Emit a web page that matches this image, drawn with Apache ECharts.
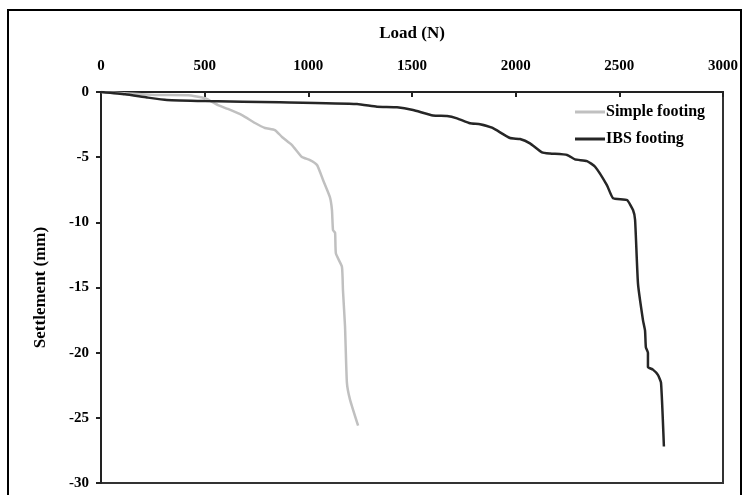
<!DOCTYPE html>
<html>
<head>
<meta charset="utf-8">
<script src="https://cdn.jsdelivr.net/npm/echarts@6/dist/echarts.min.js"></script>
<style>html,body{margin:0;padding:0;background:#fff}#c{width:746px;height:495px}</style>
</head>
<body>
<div id="c"></div>
<script>
const simpleLoad = [0,260,420,502,564,612,680,743,791,839,873,921,969,1008,1042,1071,1104,1114,1119,1129,1133,1162,1167,1177,1186,1201,1240];
const simpleSettle = [0,-0.23,-0.25,-0.48,-1.0,-1.3,-1.77,-2.38,-2.76,-2.92,-3.45,-4.07,-4.99,-5.22,-5.6,-6.75,-8.06,-9.06,-10.6,-10.8,-12.4,-13.4,-15.2,-18.0,-22.3,-23.6,-25.6];
const ibsLoad = [0,116,222,318,502,863,1235,1331,1428,1505,1601,1669,1717,1780,1828,1886,1973,2021,2069,2127,2166,2248,2286,2344,2383,2440,2470,2537,2566,2576,2590,2614,2624,2628,2638,2638,2662,2686,2701,2715];
const ibsSettle = [0,-0.18,-0.42,-0.61,-0.69,-0.79,-0.92,-1.13,-1.17,-1.38,-1.8,-1.84,-2.02,-2.4,-2.47,-2.74,-3.53,-3.61,-3.94,-4.63,-4.72,-4.83,-5.17,-5.3,-5.73,-7.14,-8.16,-8.29,-9.06,-9.82,-14.7,-17.5,-18.3,-19.6,-20.0,-21.1,-21.3,-21.7,-22.3,-27.2];
const seriesNames = ['Simple footing','IBS footing'];
const xTicks = [0,500,1000,1500,2000,2500,3000];
const yTicks = [0,-5,-10,-15,-20,-25,-30];

const font = 'Liberation Serif';
const pair = (xs, ys) => xs.map((x,i)=>[x, ys[i]]);
const chart = echarts.init(document.getElementById('c'), null, {renderer:'canvas'});
chart.setOption({
  backgroundColor:'#fff',
  animation:false,
  graphic:[{type:'rect', shape:{x:8,y:10,width:733,height:492}, style:{fill:'none',stroke:'#000',lineWidth:2}, z:-1}],
  grid:{left:101, top:92, right:23, bottom:12, show:true, borderColor:'#333', borderWidth:2, backgroundColor:'transparent'},
  legend:{
    orient:'vertical', left:570, top:99, itemWidth:30, itemHeight:3, itemGap:11, icon:'rect',
    data: seriesNames,
    textStyle:{fontFamily:font, fontWeight:'bold', fontSize:16, color:'#000', padding:[0,0,0,-4]}
  },
  xAxis:{
    type:'value', position:'top', min:0, max:3000, interval:500,
    name:'Load (N)', nameLocation:'middle', nameGap:50,
    nameTextStyle:{fontFamily:font, fontWeight:'bold', fontSize:17, color:'#000'},
    axisLine:{show:true, onZero:false, lineStyle:{color:'#222', width:2}},
    axisTick:{show:true, inside:true, length:5, lineStyle:{color:'#222', width:2}},
    axisLabel:{fontFamily:font, fontWeight:'bold', fontSize:15, color:'#000', margin:18,
      formatter: v => String(v)},
    splitLine:{show:false}
  },
  yAxis:{
    type:'value', min:-30, max:0, interval:5,
    name:'Settlement (mm)', nameLocation:'middle', nameGap:52, nameRotate:90,
    nameTextStyle:{fontFamily:font, fontWeight:'bold', fontSize:17, color:'#000'},
    axisLine:{show:true, onZero:false, lineStyle:{color:'#222', width:2}},
    axisTick:{show:true, inside:false, length:5, lineStyle:{color:'#222', width:2}},
    axisLabel:{fontFamily:font, fontWeight:'bold', fontSize:15, color:'#000', margin:12,
      formatter: v => String(v)},
    splitLine:{show:false}
  },
  series:[
    {name:seriesNames[0], type:'line', data:pair(simpleLoad, simpleSettle), symbol:'none', smooth:0.15,
     lineStyle:{color:'#c0c0c0', width:2.5}, itemStyle:{color:'#c0c0c0'}},
    {name:seriesNames[1], type:'line', data:pair(ibsLoad, ibsSettle), symbol:'none', smooth:0.15,
     lineStyle:{color:'#262626', width:2.5}, itemStyle:{color:'#262626'}}
  ]
});
</script>
</body>
</html>
